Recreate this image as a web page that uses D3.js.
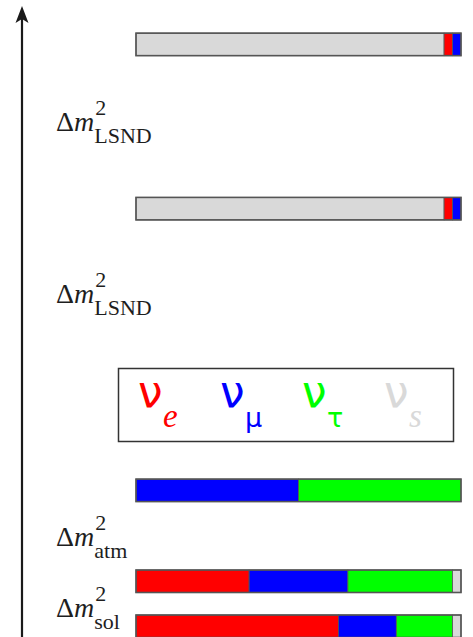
<!DOCTYPE html>
<html><head><meta charset="utf-8">
<script src="https://cdn.jsdelivr.net/npm/d3@7"></script>
<style>html,body{margin:0;padding:0;background:#fff;} svg{display:block;}</style>
</head><body><svg id="c" width="473" height="637"></svg>
<script>
// mass eigenstates (top to bottom) and their relative mass-squared level
const states = ["ν5", "ν4", "ν3", "ν2", "ν1"];
const massLevels = [129.3, 92.8, 30.2, 10, 0];
// flavour content of each state
const nuE   = [0.026, 0.026, 0.0, 0.348, 0.623];
const nuMu  = [0.026, 0.026, 0.5, 0.304, 0.178];
const nuTau = [0.0,   0.0,   0.5, 0.322, 0.173];
const nuS   = [0.948, 0.948, 0.0, 0.026, 0.026];
const flavors = ["e", "μ", "τ", "s"];
const flavorColors = ["#ff0000", "#0000ff", "#00ff00", "#d9d9d9"];
// splitting labels
const gapLabels = ["LSND", "LSND", "atm", "sol"];
const gapLabelLevels = [107.6, 69.3, 15.3, -0.4];

const W = 473, H = 637;
const svg = d3.select("#c");
const y = d3.scaleLinear().domain([0, 130]).range([615, 30]);
const x = d3.scaleLinear().domain([0, 1]).range([136, 461]);
const barH = 22.5;

// axis with arrow
svg.append("line").attr("x1", 22).attr("x2", 22).attr("y1", H + 2).attr("y2", 12)
  .attr("stroke", "#1a1a1a").attr("stroke-width", 2.2);
svg.append("path").attr("d", "M22,6 L15.5,23 L22,19 L28.5,23 Z").attr("fill", "#1a1a1a");

// bars
const fracs = [nuE, nuMu, nuTau, nuS];
states.forEach((s, i) => {
  const order = nuS[i] > 0.5 ? [3, 0, 1, 2] : [0, 1, 2, 3];
  let acc = 0;
  const segs = [];
  order.forEach(f => {
    const v = fracs[f][i];
    if (v > 0) segs.push({ f, x0: acc, x1: acc + v });
    acc += v;
  });
  const g = svg.append("g");
  g.selectAll("rect.seg").data(segs).join("rect").attr("class", "seg")
    .attr("x", d => x(d.x0)).attr("width", d => x(d.x1) - x(d.x0))
    .attr("y", y(massLevels[i])).attr("height", barH)
    .attr("fill", d => flavorColors[d.f]).attr("stroke", "#555").attr("stroke-width", 0.8);
  g.append("rect").attr("x", x(0)).attr("width", x(1) - x(0))
    .attr("y", y(massLevels[i])).attr("height", barH)
    .attr("fill", "none").attr("stroke", "#555").attr("stroke-width", 1.6);
});

// splitting labels
gapLabels.forEach((lab, i) => {
  const by = y(gapLabelLevels[i]);
  const t = svg.append("text").attr("x", 56).attr("y", by)
    .attr("font-family", "'Liberation Serif', 'Times New Roman', serif").attr("font-size", 28).attr("fill", "#1e1e1e");
  t.append("tspan").text("Δ");
  t.append("tspan").attr("font-style", "italic").text("m");
  const w = t.node().getComputedTextLength();
  svg.append("text").attr("x", 56 + w + 1).attr("y", by - 16)
    .attr("font-family", "'Liberation Serif', serif").attr("font-size", 22).attr("fill", "#1e1e1e").text("2");
  svg.append("text").attr("x", 56 + w).attr("y", by + 12)
    .attr("font-family", "'Liberation Serif', serif").attr("font-size", 22).attr("fill", "#1e1e1e").text(lab);
});

// legend
const lg = svg.append("g");
lg.append("rect").attr("x", 118.5).attr("y", 368.5).attr("width", 335).attr("height", 73)
  .attr("fill", "#fff").attr("stroke", "#333").attr("stroke-width", 1.5);
const lx = d3.scalePoint().domain(flavors).range([138, 384]);
flavors.forEach((f, i) => {
  lg.append("text").attr("x", lx(f)).attr("y", 407)
    .attr("font-family", "'DejaVu Sans', sans-serif").attr("font-size", 44)
    .attr("fill", flavorColors[i]).text("ν");
  const italic = (f === "e" || f === "s");
  lg.append("text").attr("x", lx(f) + 25).attr("y", 427)
    .attr("font-family", italic ? "'Liberation Serif', serif" : "'DejaVu Sans', sans-serif")
    .attr("font-style", italic ? "italic" : "normal")
    .attr("font-size", italic ? 33 : 27)
    .attr("fill", flavorColors[i]).text(f);
});
</script></body></html>
